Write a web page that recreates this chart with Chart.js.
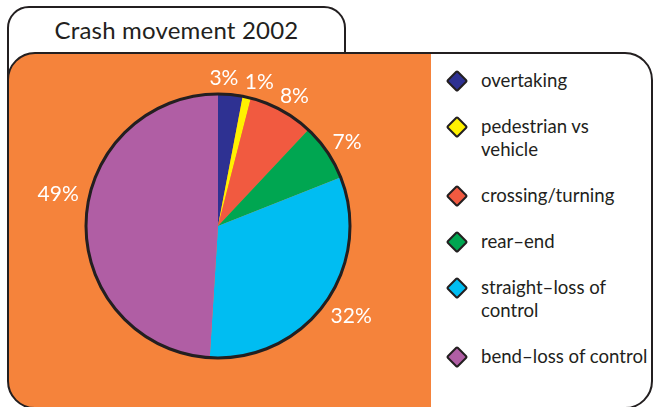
<!DOCTYPE html>
<html lang="en">
<head>
    <meta charset="UTF-8">
    <title>Crash movement 2002</title>
    <script src="https://cdn.jsdelivr.net/npm/chart.js"></script>
    <style>
        body {
            margin: 0;
            width: 654px;
            height: 407px;
            overflow: hidden;
            background: #ffffff;
            font-family: Lato, "Open Sans", sans-serif;
            color: #231f20;
            position: relative;
        }

        .tab {
            position: absolute;
            left: 7px;
            top: 6px;
            width: 339px;
            height: 80px;
            border: 2.5px solid #231f20;
            border-radius: 22px 22px 0 0;
            box-sizing: border-box;
            background: #ffffff;
        }

        .tab h1 {
            margin: 0;
            font-size: 24px;
            font-weight: normal;
            text-align: center;
            line-height: 44px;
            letter-spacing: 0.2px;
        }

        .panel {
            position: absolute;
            left: 7px;
            top: 52px;
            width: 646px;
            height: 357px;
            border: 2.5px solid #231f20;
            border-radius: 28px;
            box-sizing: border-box;
            background: linear-gradient(to right, #f5833b 0, #f5833b 422px, #ffffff 422px);
        }

        .chart-box {
            position: absolute;
            left: 0;
            top: 0;
            width: 432px;
            height: 407px;
        }

        .legend {
            position: absolute;
            left: 446px;
            top: 69px;
            margin: 0;
            padding: 0;
            list-style: none;
            font-size: 18.6px;
            line-height: 23px;
        }

        .legend li {
            position: relative;
            padding-left: 35px;
            margin-bottom: 23px;
            white-space: nowrap;
        }

        .legend .marker {
            position: absolute;
            left: 3px;
            top: 3.5px;
            width: 12px;
            height: 12px;
            border: 2.2px solid #231f20;
            border-radius: 2px;
            transform: rotate(45deg);
        }
    </style>
</head>
<body>
    <div class="tab"><h1>Crash movement 2002</h1></div>
    <div class="panel"></div>
    <div class="chart-box">
        <canvas id="crashPie"></canvas>
    </div>
    <ul class="legend" id="legend"></ul>

    <script>
        // Crash movement shares, in percent
        const categories = [
            'overtaking',
            ['pedestrian vs', 'vehicle'],
            'crossing/turning',
            'rear–end',
            ['straight–loss of', 'control'],
            'bend–loss of control'
        ];
        const shares = [3, 1, 8, 7, 32, 49];
        const sliceColours = ['#2e3192', '#fff200', '#f15a40', '#00a651', '#00bdf2', '#b05ea4'];

        // build the legend on the right
        const legend = document.getElementById('legend');
        categories.forEach(function(cat, i) {
            const li = document.createElement('li');
            const text = Array.isArray(cat) ? cat.join('<br>') : cat;
            li.innerHTML = '<span class="marker" style="background:' + sliceColours[i] + '"></span>' + text;
            legend.appendChild(li);
        });

        // percentage labels outside the pie + black rim
        const rimAndLabels = {
            id: 'rimAndLabels',
            afterDatasetsDraw(chart, args, opts) {
                const ctx = chart.ctx;
                const meta = chart.getDatasetMeta(0);
                const first = meta.data[0];
                ctx.save();
                ctx.beginPath();
                ctx.arc(first.x, first.y, first.outerRadius - 1, 0, Math.PI * 2);
                ctx.lineWidth = 3;
                ctx.strokeStyle = '#231f20';
                ctx.stroke();

                ctx.font = '21px Lato, sans-serif';
                ctx.fillStyle = '#ffffff';
                ctx.textAlign = 'center';
                ctx.textBaseline = 'middle';
                meta.data.forEach(function(arc, i) {
                    const mid = (arc.startAngle + arc.endAngle) / 2 + opts.angleShift[i] * Math.PI / 180;
                    const r = arc.outerRadius + opts.radialGap[i];
                    ctx.fillText(shares[i] + '%', arc.x + Math.cos(mid) * r, arc.y + Math.sin(mid) * r);
                });
                ctx.restore();
            }
        };

        const ctx = document.getElementById('crashPie').getContext('2d');
        new Chart(ctx, {
            type: 'pie',
            data: {
                labels: categories,
                datasets: [{
                    data: shares,
                    backgroundColor: sliceColours,
                    borderWidth: 0,
                    offset: 0,
                    hoverOffset: 0
                }]
            },
            options: {
                responsive: true,
                maintainAspectRatio: false,
                animation: false,
                events: [],
                layout: {
                    padding: { left: 85, right: 81, top: 92, bottom: 47 }
                },
                plugins: {
                    legend: { display: false },
                    tooltip: { enabled: false },
                    rimAndLabels: {
                        angleShift: [-3.1, 3.4, 1.6, 1.1, -1.8, 9.5],
                        radialGap: [15, 17, 18, 21, 28, 30]
                    }
                }
            },
            plugins: [rimAndLabels]
        });
    </script>
</body>
</html>
